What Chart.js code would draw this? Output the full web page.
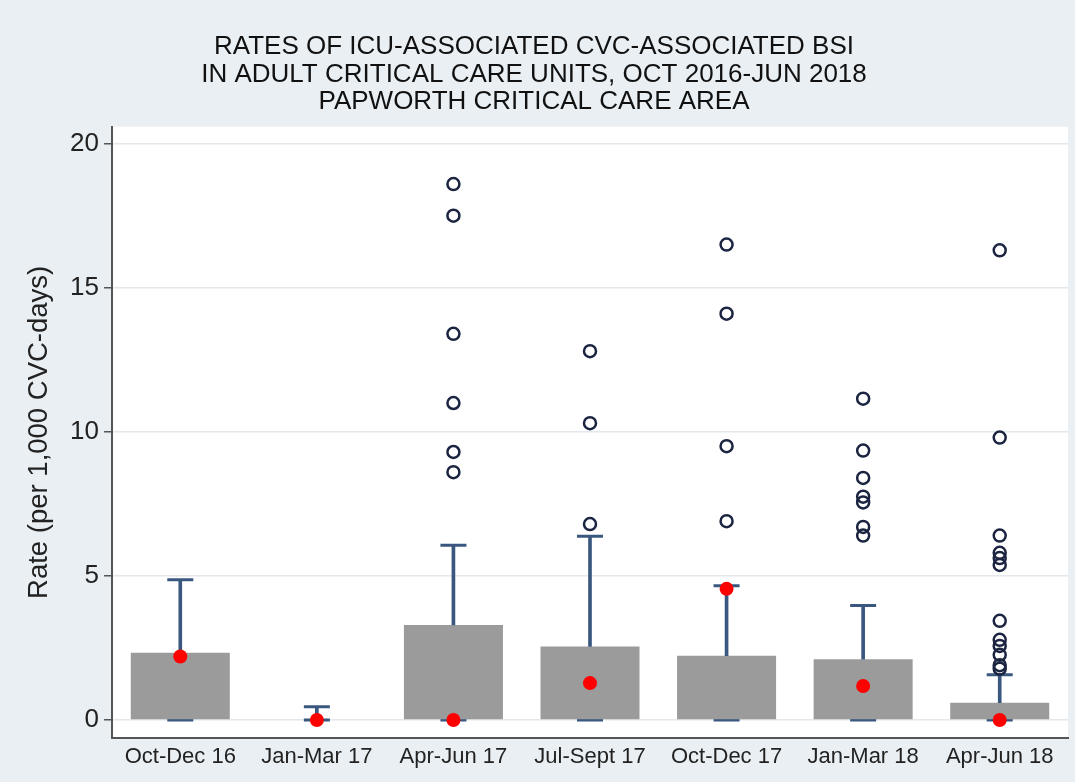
<!DOCTYPE html>
<html>
<head>
<meta charset="utf-8">
<script src="https://cdn.jsdelivr.net/npm/chart.js@4.4.0/dist/chart.umd.min.js"></script>
<style>
  html, body { margin: 0; padding: 0; background: #e9eff3; }
  #wrap { width: 1075px; height: 782px; }
</style>
</head>
<body>
<div id="wrap"><canvas id="bsiChart" width="1075" height="782"></canvas></div>
<script>
// Quarters on the x axis
const categories = ["Oct-Dec 16", "Jan-Mar 17", "Apr-Jun 17", "Jul-Sept 17", "Oct-Dec 17", "Jan-Mar 18", "Apr-Jun 18"];

// Box (lower quartile / upper quartile) and whisker ends, per quarter
const boxLow = [0, 0, 0, 0, 0, 0, 0];
const boxHigh = [2.33, 0, 3.3, 2.55, 2.23, 2.11, 0.6];
const whiskerLow = [0, 0, 0, 0, 0, 0, 0];
const whiskerHigh = [4.87, 0.46, 6.06, 6.38, 4.66, 3.97, 1.57];

// Outlying units (hollow circles)
const outlierValues = [
    [],
    [],
    [18.6, 17.5, 13.4, 11.0, 9.3, 8.6],
    [12.8, 10.3, 6.8],
    [16.5, 14.1, 9.5, 6.9],
    [11.15, 9.35, 8.4, 7.75, 7.55, 6.7, 6.4],
    [16.3, 9.8, 6.4, 5.8, 5.62, 5.38, 3.44, 2.78, 2.57, 2.26, 1.9, 1.78],
];

// Papworth critical care area (red dots)
const papworth = [2.2, 0, 0, 1.28, 4.55, 1.18, 0];

const yTicks = [0, 5, 10, 15, 20];
const titleLines = [
    "RATES OF ICU-ASSOCIATED CVC-ASSOCIATED BSI",
    "IN ADULT CRITICAL CARE UNITS, OCT 2016-JUN 2018",
    "PAPWORTH CRITICAL CARE AREA",
];

const WHISKER = "#3a5780";

const outlierPoints = [];
outlierValues.forEach((vals, i) => {
    vals.forEach(v => outlierPoints.push({ x: categories[i], y: v }));
});

// fond gris-bleu + zone de tracé blanche
const backgroundPlugin = {
    id: "bg",
    beforeDraw(chart) {
        const { ctx, chartArea } = chart;
        ctx.save();
        ctx.fillStyle = "#e9eff3";
        ctx.fillRect(0, 0, chart.width, chart.height);
        ctx.fillStyle = "#ffffff";
        ctx.fillRect(chartArea.left, chartArea.top, chartArea.right - chartArea.left, chartArea.bottom - chartArea.top);
        ctx.restore();
    },
};

Chart.defaults.font.family = "'Liberation Sans', Arial, sans-serif";
Chart.defaults.color = "#222";

const ctx = document.getElementById("bsiChart").getContext("2d");
new Chart(ctx, {
    type: "bar",
    data: {
        labels: categories,
        datasets: [
            {
                type: "line", label: "Papworth", data: papworth, showLine: false,
                pointRadius: 7, pointBackgroundColor: "#ff0000", pointBorderWidth: 0, order: 1,
            },
            {
                type: "line", label: "Outliers", data: outlierPoints, showLine: false,
                pointRadius: 6, pointBackgroundColor: "rgba(0,0,0,0)", pointBorderColor: "#1b2440", pointBorderWidth: 2.5, order: 2,
            },
            {
                type: "line", label: "Upper cap", data: whiskerHigh, showLine: false,
                pointStyle: "line", pointRadius: 13, pointBorderColor: WHISKER, pointBorderWidth: 3, order: 3,
            },
            {
                type: "bar", label: "Whisker", data: categories.map((c, i) => [boxHigh[i], whiskerHigh[i]]),
                backgroundColor: WHISKER, barThickness: 3, grouped: false, order: 4,
            },
            {
                type: "bar", label: "Box", data: categories.map((c, i) => [boxLow[i], boxHigh[i]]),
                backgroundColor: "#9b9b9b", barPercentage: 0.725, categoryPercentage: 1, grouped: false, order: 5,
            },
            {
                type: "line", label: "Lower cap", data: whiskerLow, showLine: false,
                pointStyle: "line", pointRadius: 13, pointBorderColor: WHISKER, pointBorderWidth: 3, order: 6,
            },
        ],
    },
    options: {
        responsive: false,
        animation: false,
        events: [],
        layout: { autoPadding: false, padding: { left: 0, right: 7, top: 0, bottom: 0 } },
        plugins: {
            legend: { display: false },
            tooltip: { enabled: false },
            title: {
                display: true,
                text: titleLines,
                color: "#111",
                font: { size: 26, weight: "normal", lineHeight: 1.06 },
                padding: { top: 33, bottom: 11 },
            },
        },
        scales: {
            x: {
                grid: { display: false },
                border: { display: true, color: "#555", width: 2 },
                ticks: { font: { size: 22 }, color: "#222", padding: -2, maxRotation: 0 },
                afterFit: scale => { scale.height = 44; },
            },
            y: {
                min: -0.626,
                max: 20.59,
                afterBuildTicks: axis => { axis.ticks = yTicks.map(v => ({ value: v })); },
                grid: { color: "#e2e8ec", lineWidth: 1.5, tickLength: 8, tickColor: "#555", tickWidth: 1.5 },
                border: { display: true, color: "#555", width: 2 },
                ticks: { font: { size: 26 }, color: "#222", padding: 5 },
                title: {
                    display: true,
                    text: "Rate (per 1,000 CVC-days)",
                    font: { size: 27.5 },
                    color: "#222",
                    padding: { top: 23, bottom: 0 },
                },
                afterFit: scale => { scale.width = 112; },
            },
        },
    },
    plugins: [backgroundPlugin],
});
</script>
</body>
</html>
